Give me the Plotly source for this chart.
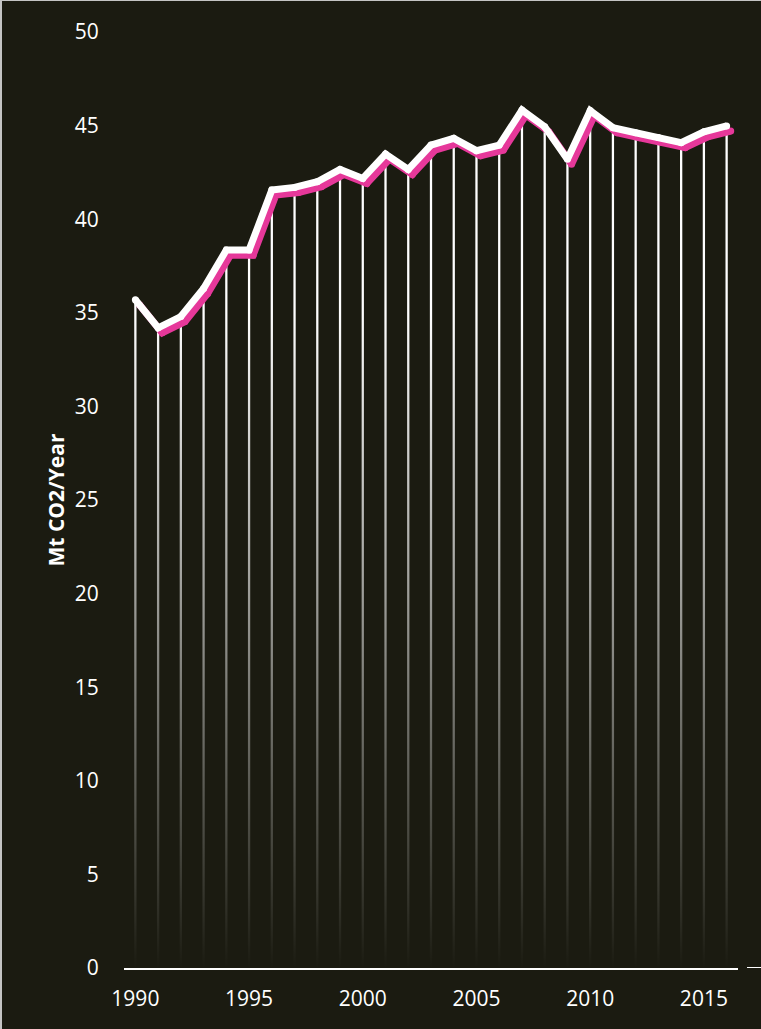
import plotly.graph_objects as go

years = list(range(1990, 2017))
emissions = [35.7, 34.2, 34.8, 36.3, 38.35, 38.35, 41.56, 41.7, 42.0, 42.66,
             42.18, 43.48, 42.66, 43.96, 44.32, 43.66, 43.96, 45.83, 44.94, 43.2,
             45.8, 44.89, 44.62, 44.37, 44.09, 44.67, 44.98]
y_ticks = list(range(0, 55, 5))
x_ticks = list(range(1990, 2020, 5))

BG = "#1b1b11"
WHITE = "#ffffff"
PINK = "#e6389a"
FONT = "Open Sans"

# drop-line polygons (thin rectangles from 0 up to each value)
half_w = 0.05
dx, dy = [], []
for x, v in zip(years, emissions):
    dx += [x - half_w, x - half_w, x + half_w, x + half_w, x - half_w, None]
    dy += [0, v, v, 0, 0, None]

fig = go.Figure()
fig.add_trace(go.Scatter(
    x=dx, y=dy, mode="lines", fill="toself", line=dict(width=0),
    fillgradient=dict(type="vertical", start=0, stop=35,
                      colorscale=[[0, "rgba(255,255,255,0)"], [1, "rgba(255,255,255,1)"]]),
    hoverinfo="skip", showlegend=False,
))
# pink shadow line, drawn on an overlay axis pair shifted a few pixels
fig.add_trace(go.Scatter(
    x=years, y=emissions, mode="lines+markers", xaxis="x2", yaxis="y2",
    line=dict(color=PINK, width=7), marker=dict(color=PINK, size=7),
    showlegend=False, cliponaxis=False, hoverinfo="skip",
))
# white main line on a second, unshifted overlay so it is drawn above the shadow
fig.add_trace(go.Scatter(
    x=years, y=emissions, mode="lines+markers", xaxis="x3", yaxis="y3",
    line=dict(color=WHITE, width=7), marker=dict(color=WHITE, size=7),
    showlegend=False, cliponaxis=False,
))

xr = [1989.5, 2016.5]
yr = [0, 50]
sx, sy = 0.18, 0.27
fig.update_layout(
    width=761, height=1029,
    margin=dict(l=122, r=25, t=31, b=62),
    paper_bgcolor=BG, plot_bgcolor=BG,
    font=dict(family=FONT, color=WHITE, size=21),
    xaxis=dict(range=xr, tickvals=x_ticks, showgrid=False, zeroline=False,
               showline=True, linecolor=WHITE, linewidth=2,
               ticks="outside", ticklen=11, tickcolor="rgba(0,0,0,0)",
               tickfont=dict(size=21, color=WHITE)),
    yaxis=dict(range=yr, tickvals=y_ticks, showgrid=False, zeroline=False,
               showline=False, ticks="outside", ticklen=20, tickcolor="rgba(0,0,0,0)",
               tickfont=dict(size=21, color=WHITE),
               title=dict(text="<b>Mt CO2/Year</b>", font=dict(size=21, color=WHITE), standoff=4)),
    xaxis2=dict(range=[xr[0] - sx, xr[1] - sx], overlaying="x", visible=False),
    yaxis2=dict(range=[yr[0] + sy, yr[1] + sy], overlaying="y", visible=False),
    xaxis3=dict(range=xr, overlaying="x", visible=False),
    yaxis3=dict(range=yr, overlaying="y", visible=False),
    shapes=[dict(type="line", xref="paper", yref="y", x0=1.0147, x1=1.05, y0=0, y1=0,
                 line=dict(color=WHITE, width=2))],
)
fig.write_html(
    "out.html",
    post_script="document.body.style.margin='1px 0 0 2px';"
                "document.body.style.background='#c4c4c4';"
                "document.body.style.overflow='hidden';",
)
